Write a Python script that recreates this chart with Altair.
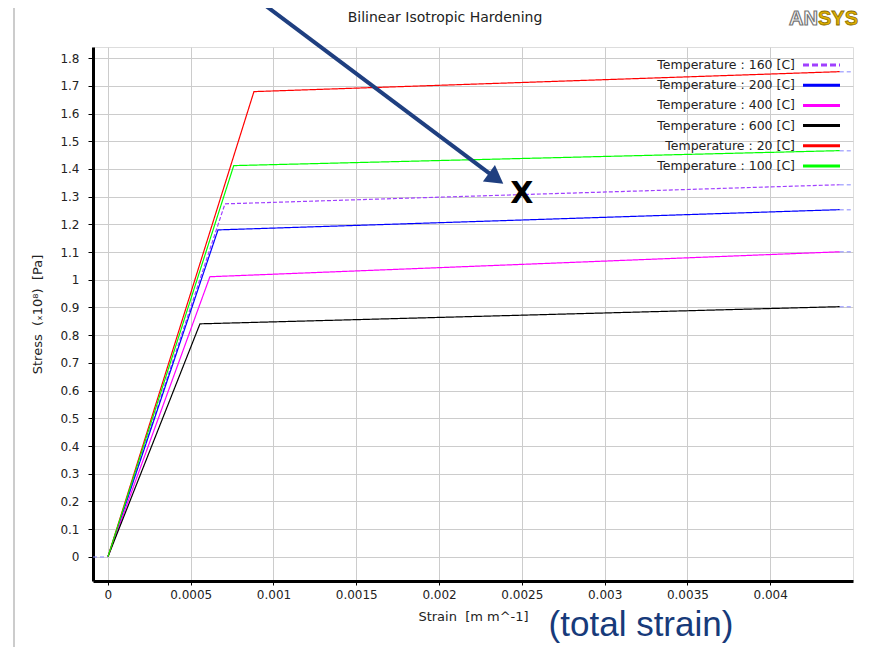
import altair as alt
import pandas as pd

# ---- data ----
temps = ["160", "200", "400", "600", "20", "100"]
colors = ["#a040ff", "#0000ff", "#ff00ff", "#000000", "#ff0000", "#00ff00"]
kink_strain = [0.000707, 0.000665, 0.000616, 0.000556, 0.000882, 0.00076]
kink_stress = [1.274, 1.18, 1.011, 0.841, 1.679, 1.412]
end_strain = 0.00442
end_stress = [1.343, 1.253, 1.101, 0.903, 1.751, 1.466]
ext_left = -0.00009
ext_right = 0.0045

x_ticks = [0, 0.0005, 0.001, 0.0015, 0.002, 0.0025, 0.003, 0.0035, 0.004]
y_ticks = [0, 0.1, 0.2, 0.3, 0.4, 0.5, 0.6, 0.7, 0.8, 0.9, 1.0, 1.1, 1.2,
           1.3, 1.4, 1.5, 1.6, 1.7, 1.8]

arrow_start = (0.000888, 2.018)
arrow_end = (0.002330, 1.372)
x_mark = (0.00250, 1.31)

NB = "\u00a0"

# ---- tables ----
rows = []
for i, t in enumerate(temps):
    label = f"Temperature : {t} [C]"
    for j, (sx, sy) in enumerate([(0.0, 0.0), (kink_strain[i], kink_stress[i]),
                                  (end_strain, end_stress[i])]):
        rows.append({"series": label, "strain": sx, "stress": sy, "order": j})
df = pd.DataFrame(rows)
labels = [f"Temperature : {t} [C]" for t in temps]

ext_rows = [{"seg": "start", "x": ext_left, "x2": 0.0, "y": 0.0}]
for i, t in enumerate(temps):
    ext_rows.append({"seg": t, "x": end_strain, "x2": ext_right, "y": end_stress[i]})
ext_df = pd.DataFrame(ext_rows)

xs = alt.Scale(domain=[ext_left, ext_right], nice=False, zero=False)
ys = alt.Scale(domain=[-0.087, 1.84], nice=False, zero=False)

FONT = "DejaVu Sans"

AX = alt.Axis(values=x_ticks, format="~g", title=f"Strain{NB}{NB}[m{NB}m^-1]",
              grid=True, gridColor="#cccccc", domainColor="black",
              domainWidth=3, tickColor="black", tickSize=4,
              labelFont=FONT, labelFontSize=12, labelColor="#222",
              labelPadding=4, titleFont=FONT, titleFontSize=13,
              titleFontWeight="normal", titleColor="#222",
              titlePadding=10, labelFlush=False, labelOverlap=False)
AY = alt.Axis(values=y_ticks, format="~g", title=f"Stress{NB}{NB}(ₓ10⁸){NB}{NB}[Pa]",
              grid=True, gridColor="#cccccc", domainColor="black",
              domainWidth=3, tickColor="black", tickSize=5,
              labelFont=FONT, labelFontSize=12, labelColor="#222",
              labelPadding=9, titleFont=FONT, titleFontSize=13,
              titleFontWeight="normal", titleColor="#222",
              titlePadding=15, labelOverlap=False)

lines = alt.Chart(df).mark_line(strokeWidth=1.2, clip=True).encode(
    x=alt.X("strain:Q", scale=xs, axis=AX),
    y=alt.Y("stress:Q", scale=ys, axis=AY),
    color=alt.Color("series:N", scale=alt.Scale(domain=labels, range=colors), legend=None),
    strokeDash=alt.StrokeDash("series:N",
                              scale=alt.Scale(domain=labels,
                                              range=[[4, 2], [1, 0], [1, 0], [1, 0], [1, 0], [1, 0]]),
                              legend=None),
    order="order:Q",
    detail="series:N",
)

ext = alt.Chart(ext_df).mark_rule(color="#8c8cff", strokeWidth=1.5, strokeDash=[4, 3],
                                  opacity=0.7).encode(
    x=alt.X("x:Q", scale=xs, axis=AX), x2="x2:Q",
    y=alt.Y("y:Q", scale=ys, axis=AY))

ann_df = pd.DataFrame([{"x": arrow_start[0], "y": arrow_start[1],
                        "x2": arrow_end[0], "y2": arrow_end[1]}])
arrow = alt.Chart(ann_df).mark_rule(color="#1f3f80", strokeWidth=4).encode(
    x=alt.X("x:Q", scale=xs, axis=AX), y=alt.Y("y:Q", scale=ys, axis=AY),
    x2="x2:Q", y2="y2:Q")
head = alt.Chart(ann_df).mark_point(shape="triangle", filled=True, color="#1f3f80",
                                    size=420, angle=126, opacity=1).encode(
    x=alt.X("x2:Q", scale=xs, axis=AX), y=alt.Y("y2:Q", scale=ys, axis=AY))

xm_df = pd.DataFrame([{"x": x_mark[0], "y": x_mark[1], "t": "X"}])
xmark = alt.Chart(xm_df).mark_text(font=FONT, fontSize=30, fontWeight="bold",
                                   color="black").encode(
    x=alt.X("x:Q", scale=xs, axis=AX), y=alt.Y("y:Q", scale=ys, axis=AY),
    text="t:N")

main = alt.layer(lines, ext, arrow, head, xmark)

# ---- legend (label left, swatch right) ----
leg_df = pd.DataFrame({"label": labels, "row": list(range(len(labels)))})
leg_y = alt.Y("row:O", axis=None,
              scale=alt.Scale(type="point", domain=list(range(6)), range=[18, 119], padding=0))
leg_text = alt.Chart(leg_df).mark_text(align="right", baseline="middle", font=FONT,
                                       fontSize=12.5, color="#222").encode(
    x=alt.value(702), y=leg_y, text="label:N")
leg_sw = alt.Chart(leg_df).mark_rule(strokeWidth=3).encode(
    x=alt.value(710), x2=alt.value(747), y=leg_y,
    color=alt.Color("label:N", scale=alt.Scale(domain=labels, range=colors), legend=None),
    strokeDash=alt.StrokeDash("label:N",
                              scale=alt.Scale(domain=labels,
                                              range=[[6, 3], [1, 0], [1, 0], [1, 0], [1, 0], [1, 0]]),
                              legend=None))

# ---- decorations ----
deco_df = pd.DataFrame([{"a": "AN", "b": "SYS", "c": "(total strain)",
                         "t": "Bilinear Isotropic Hardening"}])
frame = alt.Chart(deco_df).mark_rect(fill=None, stroke="#999999", strokeWidth=1,
                                     cornerRadius=3).encode(
    x=alt.value(-79), x2=alt.value(790), y=alt.value(-43), y2=alt.value(620))
title = alt.Chart(deco_df).mark_text(align="center", baseline="middle", font=FONT,
                                     fontSize=14, color="#222").encode(
    x=alt.value(352), y=alt.value(-29), text="t:N")
logo1 = alt.Chart(deco_df).mark_text(align="right", baseline="middle", font="Liberation Sans",
                                     fontSize=20, fontWeight="bold", fill="white",
                                     stroke="#777777", strokeWidth=1.2).encode(
    x=alt.value(725), y=alt.value(-28), text="a:N")
logo2 = alt.Chart(deco_df).mark_text(align="left", baseline="middle", font="Liberation Sans",
                                     fontSize=20, fontWeight="bold", fill="#e0b000",
                                     stroke="#8a6d00", strokeWidth=0.8).encode(
    x=alt.value(725), y=alt.value(-28), text="b:N")
total = alt.Chart(deco_df).mark_text(align="center", baseline="middle",
                                     font="Liberation Sans", fontSize=35,
                                     color="#173a7a").encode(
    x=alt.value(548), y=alt.value(578), text="c:N")

legend_layer = alt.layer(leg_text, leg_sw, frame, title, logo1, logo2, total)

chart = alt.layer(main, legend_layer).resolve_scale(
    y="independent", color="independent", strokeDash="independent"
).properties(
    width=760, height=534,
    autosize=alt.AutoSizeParams(type="none"),
    padding={"left": 85, "top": 39, "right": 13, "bottom": 66},
).configure_view(stroke="#cccccc", strokeWidth=1).configure(background="white")

chart.save("out.html", embed_options={"renderer": "svg", "actions": False})
